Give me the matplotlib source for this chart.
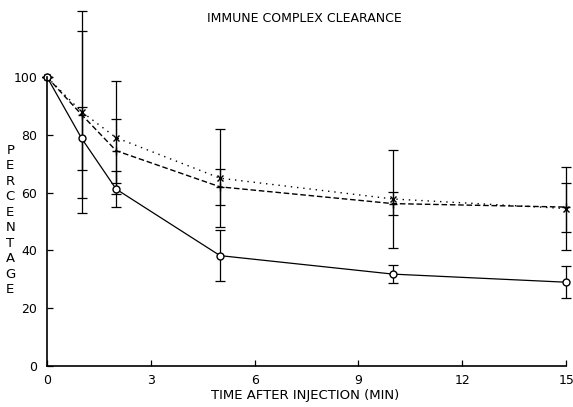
import matplotlib
matplotlib.use("Agg")
import matplotlib.pyplot as plt
import numpy as np

plt.rcParams['font.family'] = ['Liberation Sans Narrow', 'DejaVu Sans']

time = [0, 1, 2, 5, 10, 15]

solid = [100, 78.8, 61.2, 38.2, 31.8, 29.0]
solid_err = [0, 11, 6.3, 8.8, 3.2, 5.5]

dashed = [100, 87.0, 74.5, 62.0, 56.2, 55.0]
dashed_err = [0, 29, 11, 6.3, 4.0, 8.5]

dotted = [100, 88.0, 79.0, 65.0, 57.8, 54.5]
dotted_err = [0, 35, 19.5, 17, 17, 14.5]

xticks = [0, 3, 6, 9, 12, 15]
yticks = [0, 20, 40, 60, 80, 100]

fig = plt.figure(figsize=(5.73, 4.07), dpi=100)
ax = fig.add_axes([0.082, 0.1007, 0.906, 0.71])

kw = dict(color='black', ecolor='black', elinewidth=0.9, capsize=3.5, capthick=0.9, clip_on=False)
ax.errorbar(time, dotted, yerr=dotted_err, linestyle=(0, (1, 3.5)), linewidth=1.0,
            marker='x', markersize=5, **kw)
ax.errorbar(time, dashed, yerr=dashed_err, linestyle=(0, (4, 2)), linewidth=1.0,
            marker='+', markersize=6, **kw)
ax.errorbar(time, solid, yerr=solid_err, linestyle='-', linewidth=0.9,
            marker='o', markersize=5, markerfacecolor='white', **kw)

ax.set_xlim(0, 15)
ax.set_ylim(0, 100)
ax.set_xticks(xticks)
ax.set_yticks(yticks)
ax.tick_params(direction='in', length=4, labelsize=9, width=0.9)
ax.tick_params(axis='y', pad=7)
ax.tick_params(axis='x', pad=6)
ax.spines['top'].set_visible(False)
ax.spines['right'].set_visible(False)
ax.spines['left'].set_linewidth(1.2)
ax.spines['bottom'].set_linewidth(1.2)

fig.text(0.532, 0.955, 'IMMUNE COMPLEX CLEARANCE', ha='center', va='center', fontsize=9)
fig.text(0.532, 0.028, 'TIME AFTER INJECTION (MIN)', ha='center', va='center', fontsize=9.5)
fig.text(0.018, 0.459, '\n'.join('PERCENTAGE'), ha='center', va='center', fontsize=9.5,
         linespacing=1.25)

fig.savefig('out.png', dpi=100)
